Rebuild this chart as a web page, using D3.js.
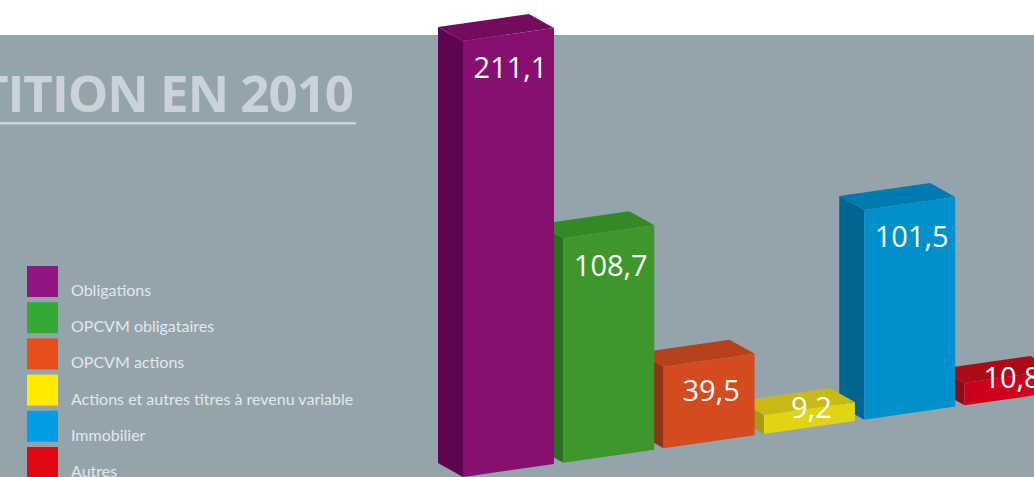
<!DOCTYPE html>
<html><head><meta charset="utf-8">
<script src="https://cdn.jsdelivr.net/npm/d3@7"></script>
<style>html,body{margin:0;padding:0;background:#fff;overflow:hidden}</style>
</head><body>
<svg id="chart" width="1034" height="477"></svg>
<script>
// ---- data ----
const categories = ["Obligations","OPCVM obligataires","OPCVM actions","Actions et autres titres à revenu variable","Immobilier","Autres"];
const values = [211.1, 108.7, 39.5, 9.2, 101.5, 10.8];
const valueLabels = ["211,1","108,7","39,5","9,2","101,5","10,8"];
const title = "RÉPARTITION EN 2010";

// ---- styles ----
const legendColors = ["#921681","#36a935","#e84e1b","#ffeb00","#009fe3","#e30613"];
const frontColors  = ["#860f6f","#3d972a","#d34b1f","#e2d313","#0090cc","#cf001b"];
const topColors    = ["#730c5f","#338a24","#b6411b","#c8b917","#007aaf","#ad0a18"];
const sideColors   = ["#5e0450","#297121","#8f3413","#a89a12","#006590","#8b0d16"];

const svg = d3.select("#chart");
const W = 1034, H = 477;
svg.append("rect").attr("x",0).attr("y",35).attr("width",W).attr("height",H-35).attr("fill","#93a4ad");

// title
svg.append("text").attr("x",353).attr("y",112).attr("text-anchor","end")
  .attr("font-family","'Open Sans', sans-serif").attr("font-weight",700)
  .attr("font-size",51).attr("fill","#c9d3d9").attr("letter-spacing",-1).text(title);
svg.append("rect").attr("x",0).attr("y",122).attr("width",356).attr("height",2.5).attr("fill","#c9d3d9");

// legend
const lg = svg.append("g");
const ly = d3.scalePoint().domain(categories).range([266,447]);
categories.forEach((c,i)=>{
  lg.append("rect").attr("x",27).attr("y",ly(c)).attr("width",31).attr("height",31).attr("fill",legendColors[i]);
  lg.append("text").attr("x",71).attr("y",ly(c)+30).attr("font-family","Lato, 'Open Sans', sans-serif")
    .attr("font-size",16).attr("fill","#e2e8eb").text(c);
});

// bars (pseudo 3D)
const x = d3.scaleBand().domain(categories).range([463,1055.5]).paddingInner(0.093).paddingOuter(0);
const h = d3.scaleLinear().domain([0,211.1]).range([0,436]);
const slope = 0.143;
const base = xx => 477 - slope*(xx-463);
const dx = -25, dy = -14;

const g = svg.append("g");
const idx = d3.range(categories.length).reverse();
idx.forEach(i=>{
  const c = categories[i];
  const x0 = x(c), x1 = x0 + x.bandwidth();
  const hh = h(values[i]);
  const bL = base(x0), bR = base(x1);
  const tL = bL - hh, tR = bR - hh;
  const pts = a => a.map(p=>p.join(",")).join(" ");
  g.append("polygon").attr("points",pts([[x0,tL],[x0,bL],[x0+dx,bL+dy],[x0+dx,tL+dy]])).attr("fill",sideColors[i]);
  g.append("polygon").attr("points",pts([[x0,tL],[x1,tR],[x1+dx,tR+dy],[x0+dx,tL+dy]])).attr("fill",topColors[i]);
  g.append("polygon").attr("points",pts([[x0,tL],[x1,tR],[x1,bR],[x0,bL]])).attr("fill",frontColors[i]);
  const cx = (x0+x1)/2;
  const topC = (tL+tR)/2;
  const off = Math.min(hh/2, 44);
  g.append("text").attr("x",cx+2).attr("y",topC+off).attr("text-anchor","middle")
    .attr("font-family","'Open Sans', sans-serif").attr("font-size",29).attr("fill","#ffffff")
    .text(valueLabels[i]);
});
</script>
</body></html>
